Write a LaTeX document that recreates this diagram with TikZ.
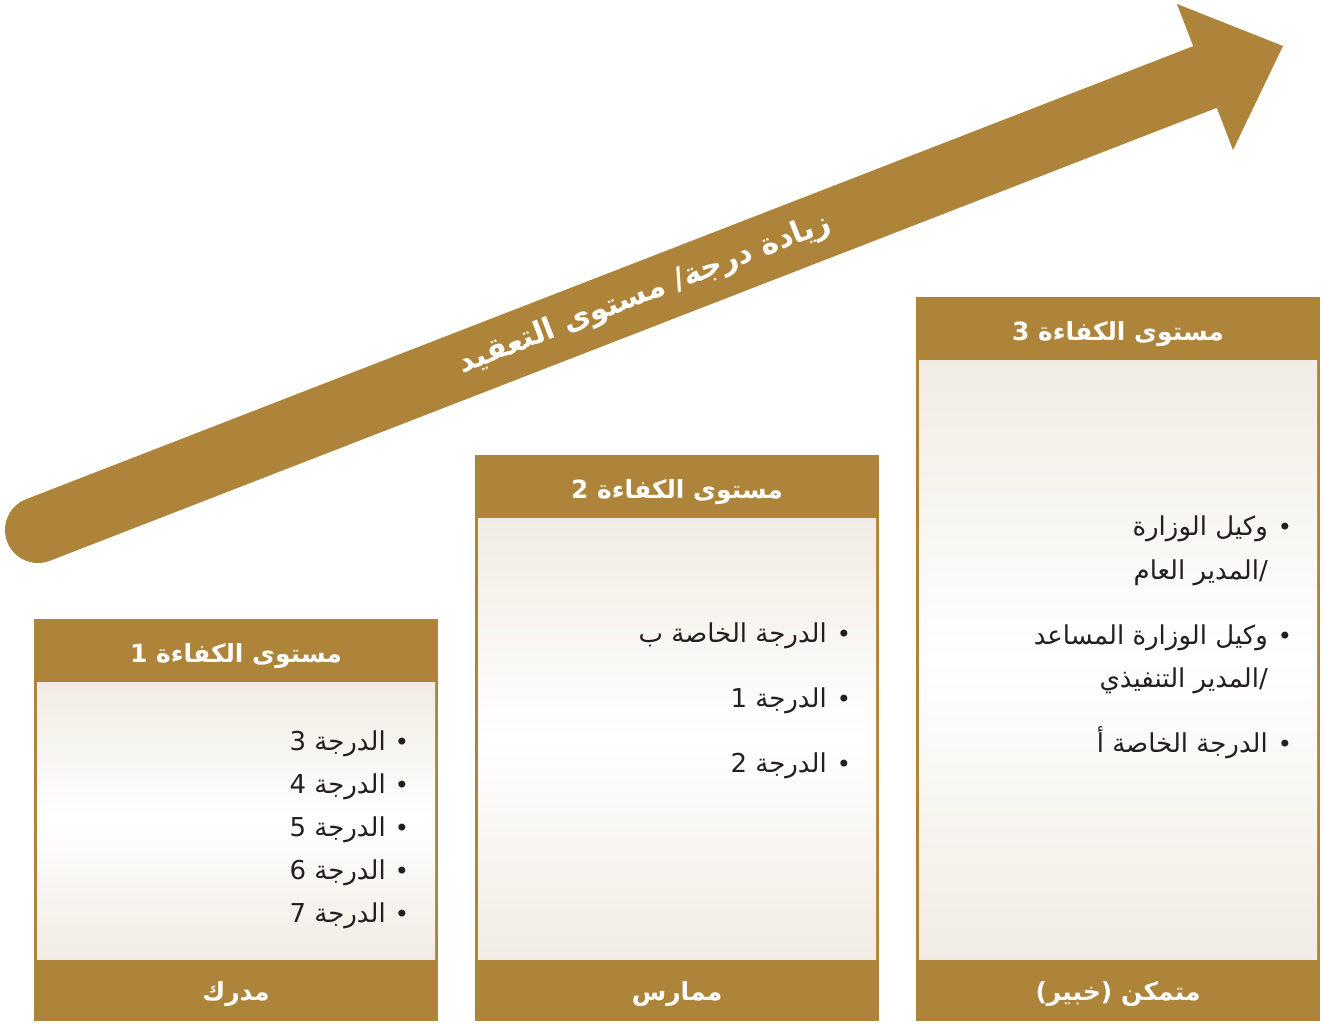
\documentclass[tikz,border=0pt]{standalone}
\usepackage{fontspec}
\newfontfamily\arabicfont[Script=Arabic]{DejaVu Sans}
\TeXXeTstate=1

\definecolor{gold}{HTML}{AE843A}
\definecolor{ink}{HTML}{231F20}
\definecolor{cream}{HTML}{F1ECE3}

\tikzstyle{heading}=[anchor=base, text=white, inner sep=0pt, font=\arabicfont\bfseries\fontsize{25}{29}\selectfont]
\tikzstyle{item}=[anchor=base east, text=ink, inner sep=0pt, font=\arabicfont\fontsize{26}{31}\selectfont]
\tikzstyle{itemdot}=[anchor=base, text=ink, inner sep=0pt, font=\arabicfont\fontsize{24}{29}\selectfont]
\tikzstyle{body}=[top color=cream, bottom color=cream, middle color=white]
\tikzstyle{band}=[gold, line width=66pt, line cap=round]

\begin{document}
\begin{tikzpicture}[x=1pt, y=-1pt]
      \useasboundingbox (0,0) rectangle (1325,1023);

      % rising arrow
      \coordinate (tail) at (38,530);
      \coordinate (neck) at (1205,77);
      \coordinate (tip) at (1283,46);
      \coordinate (wingtop) at (1177,4);
      \coordinate (wingbot) at (1233,150);
      \draw[band] (tail) -- (neck)
        node[pos=0.52, sloped, heading, anchor=center, font=\arabicfont\bfseries\fontsize{30}{35}\selectfont] (trend)
        {\beginR زيادة درجة/ مستوى التعقيد\endR};
      \fill[gold] (wingtop) -- (tip) -- (wingbot) -- cycle;

      % the three levels
      \foreach \lx/\ty/\lvl/\foot/\nm in {34/619/1/مدرك/one, 475/455/2/ممارس/two, 916/297/3/{متمكن (خبير)}/three} {
        \fill[gold] (\lx,\ty) rectangle (\lx+404,1021);
        \shade[body] (\lx+3,\ty+63) rectangle (\lx+401,959);
        \node[heading] (head\nm) at (\lx+202,\ty+43) {\beginR مستوى الكفاءة \lvl\endR};
        \node[heading] (foot\nm) at (\lx+202,1000) {\beginR \foot\endR};
      }

      % level 1
      \foreach \g [count=\i from 0] in {3,4,5,6,7} {
        \node[itemdot] (dotone\g) at (402,750+43*\i) {•};
        \node[item] (gradeone\g) at (386,750+43*\i) {\beginR الدرجة \g\endR};
      }

      % level 2
      \node[itemdot] (dottwoa) at (844,642) {•};
      \node[item] (special) at (827,642) {\beginR الدرجة الخاصة ب\endR};
      \node[itemdot] (dottwob) at (844,707) {•};
      \node[item] (gradeA) at (827,707) {\beginR الدرجة 1\endR};
      \node[itemdot] (dottwoc) at (844,772) {•};
      \node[item] (gradeB) at (827,772) {\beginR الدرجة 2\endR};

      % level 3
      \node[itemdot] (dotthreea) at (1285,535) {•};
      \node[item] (deputy) at (1268,535) {\beginR وكيل الوزارة\endR};
      \node[item] (general) at (1268,579) {\beginR /المدير العام\endR};
      \node[itemdot] (dotthreeb) at (1285,644) {•};
      \node[item] (assistant) at (1268,644) {\beginR وكيل الوزارة المساعد\endR};
      \node[item] (executive) at (1268,687) {\beginR /المدير التنفيذي\endR};
      \node[itemdot] (dotthreec) at (1285,752) {•};
      \node[item] (specialA) at (1268,752) {\beginR الدرجة الخاصة أ\endR};
    \end{tikzpicture}
\end{document}
